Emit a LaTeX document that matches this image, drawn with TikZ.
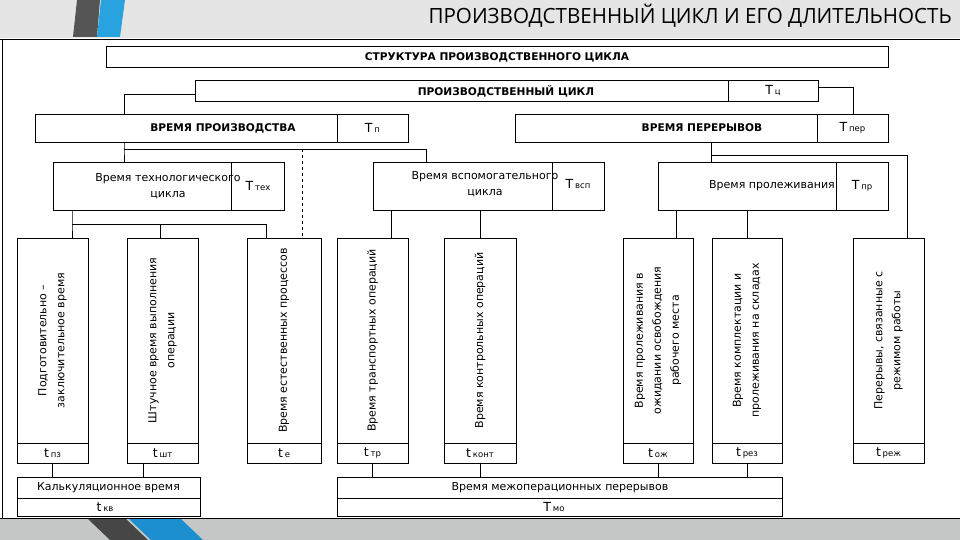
\documentclass[tikz,border=0pt]{standalone}
\usepackage{fontspec}
\setmainfont{DejaVu Sans}
\newfontfamily\titlefont{Open Sans}
\usetikzlibrary{fit}
\definecolor{hdr}{RGB}{229,229,229}
\definecolor{ftr}{RGB}{196,199,197}
\definecolor{stripedark}{RGB}{85,85,85}
\definecolor{stripeblue}{RGB}{41,163,224}
\definecolor{stripeblue2}{RGB}{27,143,208}
\definecolor{stripedark2}{RGB}{70,70,70}
\tikzset{
  box/.style={draw, line width=0.9pt, inner sep=0pt},
  conn/.style={line width=0.9pt},
  capt/.style={font=\bfseries\fontsize{10.6}{12}\selectfont, inner sep=0pt},
  txt/.style={font=\fontsize{11}{16}\selectfont, inner sep=0pt, align=center},
  vtxt/.style={font=\fontsize{11}{18}\selectfont, inner sep=0pt, align=center, rotate=90},
}
\newcommand{\Tl}[2]{{\fontsize{12.5}{12}\selectfont #1}\,{\fontsize{8.5}{10}\selectfont #2}}
\begin{document}
\begin{tikzpicture}[x=1pt,y=-1pt]
\useasboundingbox (0,0) rectangle (960,540);
% header and footer
\fill[hdr] (0,0) rectangle (960,38);
\fill[stripedark] (77,0) -- (100,0) -- (97,37) -- (73,37) -- cycle;
\fill[stripeblue] (101,0) -- (125,0) -- (120,37) -- (97,37) -- cycle;
\node[anchor=east, inner sep=0pt, font=\titlefont\fontsize{21}{24}\selectfont] (title) at (952,16) {\scalebox{0.98}[1]{ПРОИЗВОДСТВЕННЫЙ ЦИКЛ И ЕГО ДЛИТЕЛЬНОСТЬ}};
\fill[ftr] (0,519) rectangle (960,540);
\fill[stripedark2] (88,519) -- (126,519) -- (148,540) -- (110,540) -- cycle;
\fill[stripeblue2] (129,519) -- (181,519) -- (203,540) -- (151,540) -- cycle;
\draw[line width=0.9pt] (0,39) -- (960,39);
\draw[line width=0.9pt] (0,518.5) -- (960,518.5);
\draw[line width=0.9pt] (2,39) -- (2,518.5);

% level 1-2
\node[box, fit={(106,46) (888,67)}] (struct) {};
\node[capt] (structt) at (497,57.5) {СТРУКТУРА ПРОИЗВОДСТВЕННОГО ЦИКЛА};
\node[box, fit={(195,80) (728,101)}] (pc) {};
\node[box, fit={(728,80) (818,101)}] (pcT) {};
\node[capt] (pct) at (506,91) {ПРОИЗВОДСТВЕННЫЙ ЦИКЛ};
\node[txt] (pcTt) at (pcT.center) {\Tl{Т}{ц}};

\node[box, fit={(35,114) (337,142)}] (vp) {};
\node[box, fit={(337,114) (408,142)}] (vpT) {};
\node[capt] (vpt) at (223,128) {ВРЕМЯ ПРОИЗВОДСТВА};
\node[txt] (vpTt) at (vpT.center) {\Tl{Т}{п}};

\node[box, fit={(515,114) (817,142)}] (vper) {};
\node[box, fit={(817,114) (888,142)}] (vperT) {};
\node[capt] (vpert) at (702,128) {ВРЕМЯ ПЕРЕРЫВОВ};
\node[txt] (vperTt) at (vperT.center) {\Tl{Т}{пер}};

% level 3
\node[box, fit={(53,162) (231,210)}] (tech) {};
\node[box, fit={(231,162) (284,210)}] (techT) {};
\node[txt] (techt) at (168,186) {Время технологического\\цикла};
\node[txt] (techTt) at (258,186) {\Tl{Т}{тех}};

\node[box, fit={(373,162) (552,210)}] (vsp) {};
\node[box, fit={(552,162) (604,210)}] (vspT) {};
\node[txt] (vspt) at (485,184) {Время вспомогательного\\цикла};
\node[txt] (vspTt) at (578,184) {\Tl{Т}{всп}};

\node[box, fit={(658,162) (836,210)}] (prol) {};
\node[box, fit={(836,162) (888,210)}] (prolT) {};
\node[txt, anchor=east] (prolt) at (835,186) {Время пролеживания};
\node[txt] (prolTt) at (prolT.center) {\Tl{Т}{пр}};

% columns
\foreach \n/\xa/\xb in {1/17/88, 2/127/198, 3/247/321, 4/337/408, 5/444/516, 6/623/693, 7/712/782, 8/853/924}{
  \node[box, fit={(\xa,238) (\xb,443)}] (c\n) {};
  \node[box, fit={(\xa,443) (\xb,463)}] (c\n T) {};
}
\node[vtxt] (c1t) at (c1.center) {Подготовительно --\\заключительное время};
\node[vtxt] (c2t) at (c2.center) {Штучное время выполнения\\операции};
\node[vtxt] (c3t) at (c3.center) {Время естественных процессов};
\node[vtxt] (c4t) at (c4.center) {Время транспортных операций};
\node[vtxt] (c5t) at (c5.center) {Время контрольных операций};
\node[vtxt] (c6t) at (c6.center) {Время пролеживания в\\ожидании освобождения\\рабочего места};
\node[vtxt] (c7t) at (c7.center) {Время комплектации и\\пролеживания на складах};
\node[vtxt] (c8t) at (c8.center) {Перерывы, связанные с\\режимом работы};
\node[txt] (c1Tt) at (c1T.center) {\Tl{t}{пз}};
\node[txt] (c2Tt) at (c2T.center) {\Tl{t}{шт}};
\node[txt] (c3Tt) at (c3T.center) {\Tl{t}{е}};
\node[txt] (c4Tt) at (c4T.center) {\Tl{t}{тр}};
\node[txt] (c5Tt) at (c5T.center) {\Tl{t}{конт}};
\node[txt] (c6Tt) at (c6T.center) {\Tl{t}{ож}};
\node[txt] (c7Tt) at (c7T.center) {\Tl{t}{рез}};
\node[txt] (c8Tt) at (c8T.center) {\Tl{t}{реж}};

% bottom boxes
\node[box, fit={(17,477) (200,498)}] (kalk) {};
\node[box, fit={(17,498) (200,516)}] (kalkT) {};
\node[txt] (kalkt) at (kalk.center) {Калькуляционное время};
\node[txt] (kalkTt) at (105,507) {\Tl{t}{кв}};
\node[box, fit={(337,477) (782,498)}] (mo) {};
\node[box, fit={(337,498) (782,516)}] (moT) {};
\node[txt] (mot) at (560,487.5) {Время межоперационных перерывов};
\node[txt] (moTt) at (554,507) {\Tl{Т}{мо}};

% connectors
\coordinate (j1) at (124,149);
\coordinate (j2) at (302,149);
\coordinate (j3) at (72,224);
\coordinate (j4) at (160,224);
\coordinate (j5) at (266,224);
\coordinate (j6) at (711,155);
\coordinate (j7) at (907,155);
\coordinate (k1) at (426,149);
\coordinate (k2) at (391,224);
\coordinate (k3) at (676,224);
\coordinate (k4) at (143,470);
\coordinate (a1) at (124,94);
\coordinate (a2) at (853,87);

\draw[conn] (pc.west |- a1) -- (a1) -- (vp.north -| a1);
\draw[conn] (pcT.east |- a2) -- (a2) -- (vperT.north -| a2);
\draw[conn] (vp.south -| j1) -- (j1) -- (tech.north -| j1);
\draw[conn] (j1) -- (k1) -- (vsp.north -| k1);
\draw[conn, dashed] (j2) -- (c3.north -| j2);
\draw[conn] (tech.south -| j3) -- (j3) -- (c1.north -| j3);
\draw[conn] (j3) -- (j5) -- (c3.north -| j5);
\draw[conn] (j4) -- (c2.north -| j4);
\draw[conn] (vsp.south -| k2) -- (c4.north -| k2);
\draw[conn] (vsp.south -| c5.north) -- (c5.north);
\draw[conn] (vper.south -| j6) -- (j6) -- (prol.north -| j6);
\draw[conn] (j6) -- (j7) -- (c8.north -| j7);
\draw[conn] (prol.south -| k3) -- (c6.north -| k3);
\draw[conn] (prol.south -| c7.north) -- (c7.north);
\draw[conn] (c1T.south) -- (kalk.north -| c1T.south);
\draw[conn] (c2T.south -| k4) -- (kalk.north -| k4);
\draw[conn] (c4T.south) -- (mo.north -| c4T.south);
\draw[conn] (c5T.south) -- (mo.north -| c5T.south);
\draw[conn] (c6T.south) -- (mo.north -| c6T.south);
\draw[conn] (c7T.south) -- (mo.north -| c7T.south);
\end{tikzpicture}
\end{document}
